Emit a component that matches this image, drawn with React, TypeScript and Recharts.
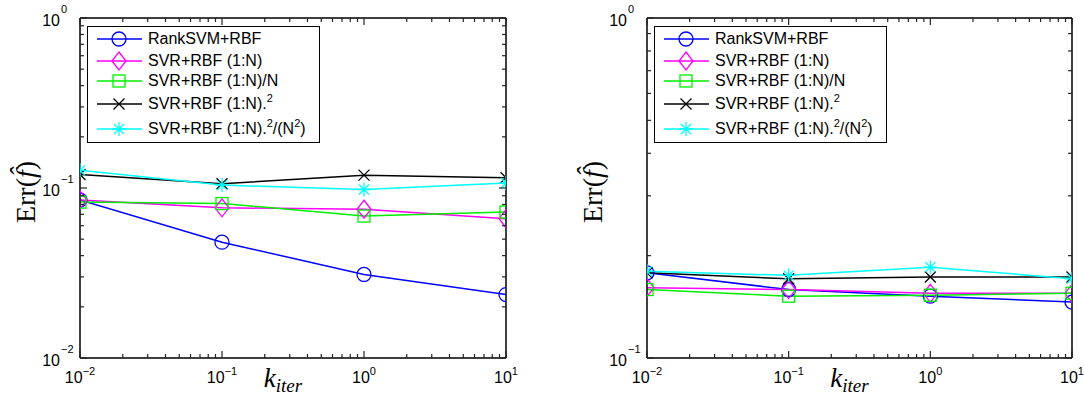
import React from 'react';
import { LineChart, Line, XAxis, YAxis, Legend } from 'recharts';

// x values (k_iter) shared by both panels
const K_ITER = [0.01, 0.1, 1, 10];

const SERIES_NAMES = [
  'RankSVM+RBF',
  'SVR+RBF (1:N)',
  'SVR+RBF (1:N)/N',
  'SVR+RBF (1:N).^2',
  'SVR+RBF (1:N).^2/(N^2)',
];
const SERIES_KEYS = ['rank', 'svr', 'svrN', 'svrSq', 'svrSqN'];
const COLORS = ['#0000ff', '#ff00ff', '#00ee00', '#000000', '#00ffff'];
const SHAPES = ['circle', 'diamond', 'square', 'cross', 'star'];

// left panel
const LEFT_RANK = [0.085, 0.048, 0.031, 0.0236];
const LEFT_SVR = [0.085, 0.0765, 0.075, 0.066];
const LEFT_SVR_N = [0.0826, 0.081, 0.0684, 0.0722];
const LEFT_SVR_SQ = [0.12, 0.106, 0.119, 0.115];
const LEFT_SVR_SQ_N = [0.127, 0.104, 0.098, 0.107];

// right panel
const RIGHT_RANK = [0.178, 0.159, 0.152, 0.146];
const RIGHT_SVR = [0.161, 0.159, 0.155, 0.155];
const RIGHT_SVR_N = [0.159, 0.152, 0.153, 0.155];
const RIGHT_SVR_SQ = [0.178, 0.171, 0.173, 0.173];
const RIGHT_SVR_SQ_N = [0.18, 0.175, 0.185, 0.171];

const X_TICKS = [
  0.01, 0.02, 0.03, 0.04, 0.05, 0.06, 0.07, 0.08, 0.09,
  0.1, 0.2, 0.3, 0.4, 0.5, 0.6, 0.7, 0.8, 0.9,
  1, 2, 3, 4, 5, 6, 7, 8, 9, 10,
];
const LEFT_Y_TICKS = [
  0.01, 0.02, 0.03, 0.04, 0.05, 0.06, 0.07, 0.08, 0.09,
  0.1, 0.2, 0.3, 0.4, 0.5, 0.6, 0.7, 0.8, 0.9, 1,
];
const RIGHT_Y_TICKS = [0.1, 0.2, 0.3, 0.4, 0.5, 0.6, 0.7, 0.8, 0.9, 1];

const SANS = '"Liberation Sans", Arial, Helvetica, sans-serif';
const SERIF = '"Liberation Serif", "Times New Roman", serif';

function buildRows(cols: number[][]) {
  return K_ITER.map((k, i) => {
    const row: Record<string, number> = { k };
    SERIES_KEYS.forEach((key, s) => {
      row[key] = cols[s][i];
    });
    return row;
  });
}

const LEFT_ROWS = buildRows([LEFT_RANK, LEFT_SVR, LEFT_SVR_N, LEFT_SVR_SQ, LEFT_SVR_SQ_N]);
const RIGHT_ROWS = buildRows([RIGHT_RANK, RIGHT_SVR, RIGHT_SVR_N, RIGHT_SVR_SQ, RIGHT_SVR_SQ_N]);

const isMajor = (v: number) => {
  const l = Math.log10(v);
  return Math.abs(l - Math.round(l)) < 1e-9;
};
const expOf = (v: number) => {
  const e = Math.round(Math.log10(v));
  return e < 0 ? '\u2212' + String(-e) : String(e);
};

function Marker({ shape, color, cx, cy }: { shape: string; color: string; cx: number; cy: number }) {
  const sw = 1.3;
  if (shape === 'circle') return <circle cx={cx} cy={cy} r={7} fill="none" stroke={color} strokeWidth={sw} />;
  if (shape === 'diamond')
    return (
      <polygon
        points={`${cx},${cy - 9} ${cx + 7},${cy} ${cx},${cy + 9} ${cx - 7},${cy}`}
        fill="none"
        stroke={color}
        strokeWidth={sw}
      />
    );
  if (shape === 'square')
    return <rect x={cx - 6} y={cy - 6} width={12} height={12} fill="none" stroke={color} strokeWidth={sw} />;
  if (shape === 'cross')
    return (
      <path
        d={`M${cx - 5.5},${cy - 5.5}L${cx + 5.5},${cy + 5.5}M${cx - 5.5},${cy + 5.5}L${cx + 5.5},${cy - 5.5}`}
        stroke={color}
        strokeWidth={sw}
      />
    );
  return (
    <path
      d={`M${cx},${cy - 7}L${cx},${cy + 7}M${cx - 7},${cy}L${cx + 7},${cy}M${cx - 5},${cy - 5}L${cx + 5},${cy + 5}M${cx - 5},${cy + 5}L${cx + 5},${cy - 5}`}
      stroke={color}
      strokeWidth={sw}
    />
  );
}

const dotFor = (shape: string, color: string) => (props: any) => {
  const { cx, cy, index } = props;
  return (
    <g key={`${shape}-${index}`}>
      <Marker shape={shape} color={color} cx={cx} cy={cy} />
    </g>
  );
};

function withSup(text: string) {
  const parts = text.split(/\^(.)/);
  return parts.map((p, i) =>
    i % 2 === 1 ? (
      <span key={i} style={{ fontSize: 11, position: 'relative', top: -7 }}>
        {p}
      </span>
    ) : (
      <span key={i}>{p}</span>
    )
  );
}

const ROW_Y = [12, 34, 54, 77, 102];

function LegendBox() {
  return (
    <div
      style={{
        position: 'relative',
        width: 233,
        height: 117,
        border: '1px solid #000',
        background: '#fff',
        boxSizing: 'border-box',
        fontFamily: SANS,
        fontSize: 16,
        color: '#000',
      }}
    >
      {SERIES_NAMES.map((name, i) => (
        <div key={name} style={{ position: 'absolute', left: 0, top: ROW_Y[i] - 11, height: 22, width: 233 }}>
          <svg width={60} height={22} style={{ position: 'absolute', left: 0, top: 0 }}>
            <line x1={9} y1={11} x2={54} y2={11} stroke={COLORS[i]} strokeWidth={1.5} />
            <Marker shape={SHAPES[i]} color={COLORS[i]} cx={31} cy={11} />
          </svg>
          <div style={{ position: 'absolute', left: 60, top: 1, lineHeight: '20px', whiteSpace: 'nowrap' }}>
            {withSup(name)}
          </div>
        </div>
      ))}
    </div>
  );
}

const MAJOR_LEN = 7;
const MINOR_LEN = 4;

const BottomTick = (props: any) => {
  const { x, y, payload } = props;
  const major = isMajor(payload.value);
  return (
    <g>
      <line x1={x} y1={y} x2={x} y2={y - (major ? MAJOR_LEN : MINOR_LEN)} stroke="#222" strokeWidth={1.2} />
      {major && (
        <text x={x} y={y + 25} textAnchor="middle" fontFamily={SANS} fontSize={16} fill="#000">
          10
          <tspan dy={-8} fontSize={11}>
            {expOf(payload.value)}
          </tspan>
        </text>
      )}
    </g>
  );
};

const TopTick = (props: any) => {
  const { x, y, payload } = props;
  const major = isMajor(payload.value);
  return <line x1={x} y1={y} x2={x} y2={y + (major ? MAJOR_LEN : MINOR_LEN)} stroke="#222" strokeWidth={1.2} />;
};

const LeftTick = (props: any) => {
  const { x, y, payload } = props;
  const major = isMajor(payload.value);
  return (
    <g>
      <line x1={x} y1={y} x2={x + (major ? MAJOR_LEN : MINOR_LEN)} y2={y} stroke="#222" strokeWidth={1.2} />
      {major && (
        <g fontFamily={SANS} fill="#000">
          <text x={x - 20} y={y + 8} textAnchor="end" fontSize={16}>
            10
          </text>
          <text x={x - 19} y={y - 5} fontSize={11}>
            {expOf(payload.value)}
          </text>
        </g>
      )}
    </g>
  );
};

const RightTick = (props: any) => {
  const { x, y, payload } = props;
  const major = isMajor(payload.value);
  return <line x1={x} y1={y} x2={x - (major ? MAJOR_LEN : MINOR_LEN)} y2={y} stroke="#222" strokeWidth={1.2} />;
};

const YLabel = (props: any) => {
  const vb = props.viewBox;
  const cx = vb.x + vb.width - 55;
  const cy = vb.y + vb.height / 2 + 4;
  return (
    <text
      x={cx}
      y={cy}
      transform={`rotate(-90 ${cx} ${cy})`}
      textAnchor="middle"
      dominantBaseline="central"
      fontFamily={SERIF}
      fontSize={28}
      fill="#000"
    >
      Err(<tspan fontStyle="italic">f&#770;</tspan>)
    </text>
  );
};

const XLabel = (props: any) => {
  const vb = props.viewBox;
  const cx = vb.x + vb.width / 2 - 10;
  return (
    <text x={cx} y={vb.y + 29} textAnchor="middle" fontFamily={SERIF} fontStyle="italic" fontSize={27} fill="#000">
      k
      <tspan dy={5} fontSize={19}>
        iter
      </tspan>
    </text>
  );
};

const AXIS_LINE = { stroke: '#000', strokeWidth: 1.5 };

function Panel({
  rows,
  yDomain,
  yTicks,
  leftW,
  rightW,
}: {
  rows: Record<string, number>[];
  yDomain: [number, number];
  yTicks: number[];
  leftW: number;
  rightW: number;
}) {
  return (
    <LineChart width={542} height={402} data={rows} margin={{ top: 0, right: 0, bottom: 0, left: 0 }}>
      <XAxis
        dataKey="k"
        type="number"
        scale="log"
        domain={[0.01, 10]}
        ticks={X_TICKS}
        interval={0}
        allowDataOverflow
        height={44}
        tickLine={false}
        tickSize={0}
        tickMargin={0}
        axisLine={AXIS_LINE}
        tick={(p: any) => <BottomTick {...p} />}
        label={{ content: (p: any) => <XLabel {...p} /> }}
      />
      <XAxis
        xAxisId="top"
        orientation="top"
        dataKey="k"
        type="number"
        scale="log"
        domain={[0.01, 10]}
        ticks={X_TICKS}
        interval={0}
        allowDataOverflow
        height={18}
        tickLine={false}
        tickSize={0}
        tickMargin={0}
        axisLine={AXIS_LINE}
        tick={(p: any) => <TopTick {...p} />}
      />
      <YAxis
        type="number"
        scale="log"
        domain={yDomain}
        ticks={yTicks}
        interval={0}
        allowDataOverflow
        width={leftW}
        tickLine={false}
        tickSize={0}
        tickMargin={0}
        axisLine={AXIS_LINE}
        tick={(p: any) => <LeftTick {...p} />}
        label={{ content: (p: any) => <YLabel {...p} /> }}
      />
      <YAxis
        yAxisId="right"
        orientation="right"
        type="number"
        scale="log"
        domain={yDomain}
        ticks={yTicks}
        interval={0}
        allowDataOverflow
        width={rightW}
        tickLine={false}
        tickSize={0}
        tickMargin={0}
        axisLine={AXIS_LINE}
        tick={(p: any) => <RightTick {...p} />}
      />
      <Legend
        layout="horizontal"
        align="center"
        verticalAlign="middle"
        content={() => <LegendBox />}
        wrapperStyle={{ left: leftW + 7, top: 26, width: 233, height: 117, bottom: 'auto', right: 'auto' }}
      />
      {SERIES_KEYS.map((key, i) => (
        <Line
          key={key}
          dataKey={key}
          name={SERIES_NAMES[i]}
          type="linear"
          stroke={COLORS[i]}
          strokeWidth={1.5}
          dot={dotFor(SHAPES[i], COLORS[i])}
          activeDot={false}
          isAnimationActive={false}
        />
      ))}
    </LineChart>
  );
}

export default function App() {
  return (
    <div style={{ position: 'absolute', left: 0, top: 0, width: 1084, height: 402, background: '#fff', overflow: 'hidden' }}>
      <div style={{ position: 'absolute', left: 0, top: 0 }}>
        <Panel rows={LEFT_ROWS} yDomain={[0.01, 1]} yTicks={LEFT_Y_TICKS} leftW={80} rightW={36} />
      </div>
      <div style={{ position: 'absolute', left: 542, top: 0 }}>
        <Panel rows={RIGHT_ROWS} yDomain={[0.1, 1]} yTicks={RIGHT_Y_TICKS} leftW={105} rightW={12} />
      </div>
    </div>
  );
}
